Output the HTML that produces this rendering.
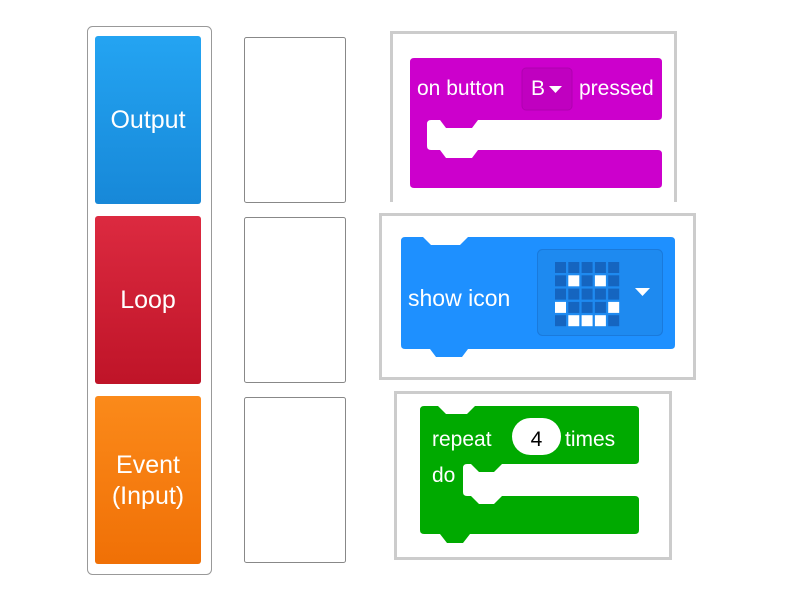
<!DOCTYPE html>
<html><head><meta charset="utf-8"><style>
html,body{margin:0;padding:0;background:#fff;}
svg{display:block;}
</style></head><body>
<svg width="800" height="600" viewBox="0 0 800 600" xmlns="http://www.w3.org/2000/svg" font-family="Liberation Sans, sans-serif">
<defs>
<linearGradient id="gb" x1="0" y1="0" x2="0" y2="1"><stop offset="0" stop-color="#24a4f2"/><stop offset="1" stop-color="#1788d8"/></linearGradient>
<linearGradient id="gr" x1="0" y1="0" x2="0" y2="1"><stop offset="0" stop-color="#dc2a40"/><stop offset="1" stop-color="#bf1428"/></linearGradient>
<linearGradient id="go" x1="0" y1="0" x2="0" y2="1"><stop offset="0" stop-color="#fb8a1a"/><stop offset="1" stop-color="#f07006"/></linearGradient>
</defs>
<rect x="87.5" y="26.5" width="124" height="548" rx="5" fill="#fff" stroke="#999" stroke-width="1"/>
<rect x="95" y="36" width="106" height="168" rx="3" fill="url(#gb)"/>
<rect x="95" y="216" width="106" height="168" rx="3" fill="url(#gr)"/>
<rect x="95" y="396" width="106" height="168" rx="3" fill="url(#go)"/>
<g fill="#fff" font-size="25" text-anchor="middle">
<text x="148" y="128">Output</text>
<text x="148" y="308">Loop</text>
<text x="148" y="473">Event</text>
<text x="148" y="504">(Input)</text>
</g>
<g fill="#fff" stroke="#888" stroke-width="1">
<rect x="244.5" y="37.5" width="101" height="165" rx="2"/>
<rect x="244.5" y="217.5" width="101" height="165" rx="2"/>
<rect x="244.5" y="397.5" width="101" height="165" rx="2"/>
</g>
<!-- image 1 -->
<path d="M391.5 202 V32.5 H675.5 V202" fill="#fff" stroke="#ccc" stroke-width="3"/>
<path d="M414 58 H658 Q662 58 662 62 V116 Q662 120 658 120 H478 L472 128 H446 L440 120 H431 Q427 120 427 124 V146 Q427 150 431 150 H440 L446 158 H472 L478 150 H658 Q662 150 662 154 V184 Q662 188 658 188 H414 Q410 188 410 184 V62 Q410 58 414 58 Z" fill="#cc00cc"/>
<rect x="522" y="68" width="50" height="42" rx="4" fill="#c000c0" stroke="#b000b0" stroke-width="1"/>
<g fill="#fff" font-size="21">
<text x="417" y="95">on button</text>
<text x="531" y="95">B</text>
<text x="579" y="95">pressed</text>
</g>
<path d="M549 86 H562 L555.5 93 Z" fill="#fff"/>
<!-- image 2 -->
<rect x="380.5" y="214.5" width="314" height="164" fill="#fff" stroke="#ccc" stroke-width="3"/>
<path d="M405 237 H423 L431 245 H460 L468 237 H671 Q675 237 675 241 V345 Q675 349 671 349 H468 L462 357 H436 L430 349 H405 Q401 349 401 345 V241 Q401 237 405 237 Z" fill="#1e90ff"/>
<rect x="537.5" y="249.5" width="125" height="86" rx="5" fill="#1e8af0" stroke="#1565c0" stroke-opacity="0.5" stroke-width="1"/>
<text x="408" y="306" fill="#fff" font-size="23">show icon</text>
<g>
<rect x="555" y="262" width="11" height="11" fill="#1565c0"/><rect x="568.3" y="262" width="11" height="11" fill="#1565c0"/><rect x="581.6" y="262" width="11" height="11" fill="#1565c0"/><rect x="594.9" y="262" width="11" height="11" fill="#1565c0"/><rect x="608.2" y="262" width="11" height="11" fill="#1565c0"/>
<rect x="555" y="275.3" width="11" height="11" fill="#1565c0"/><rect x="568.3" y="275.3" width="11" height="11" fill="#fff"/><rect x="581.6" y="275.3" width="11" height="11" fill="#1565c0"/><rect x="594.9" y="275.3" width="11" height="11" fill="#fff"/><rect x="608.2" y="275.3" width="11" height="11" fill="#1565c0"/>
<rect x="555" y="288.6" width="11" height="11" fill="#1565c0"/><rect x="568.3" y="288.6" width="11" height="11" fill="#1565c0"/><rect x="581.6" y="288.6" width="11" height="11" fill="#1565c0"/><rect x="594.9" y="288.6" width="11" height="11" fill="#1565c0"/><rect x="608.2" y="288.6" width="11" height="11" fill="#1565c0"/>
<rect x="555" y="301.9" width="11" height="11" fill="#fff"/><rect x="568.3" y="301.9" width="11" height="11" fill="#1565c0"/><rect x="581.6" y="301.9" width="11" height="11" fill="#1565c0"/><rect x="594.9" y="301.9" width="11" height="11" fill="#1565c0"/><rect x="608.2" y="301.9" width="11" height="11" fill="#fff"/>
<rect x="555" y="315.2" width="11" height="11" fill="#1565c0"/><rect x="568.3" y="315.2" width="11" height="11" fill="#fff"/><rect x="581.6" y="315.2" width="11" height="11" fill="#fff"/><rect x="594.9" y="315.2" width="11" height="11" fill="#fff"/><rect x="608.2" y="315.2" width="11" height="11" fill="#1565c0"/>
</g>
<path d="M635 288 H650 L642.5 296 Z" fill="#fff"/>
<!-- image 3 -->
<rect x="395.5" y="392.5" width="275" height="166" fill="#fff" stroke="#ccc" stroke-width="3"/>
<path d="M424 406 H438 L446 414 H467 L475 406 H635 Q639 406 639 410 V460 Q639 464 635 464 H502 L494 472 H479 L471 464 H467 Q463 464 463 468 V492 Q463 496 467 496 H471 L479 504 H494 L502 496 H635 Q639 496 639 500 V530 Q639 534 635 534 H470 L463 543 H447 L440 534 H424 Q420 534 420 530 V410 Q420 406 424 406 Z" fill="#00aa00"/>
<rect x="512" y="418" width="49" height="37" rx="18.5" fill="#fff"/>
<g font-size="21">
<text x="432" y="446" fill="#fff">repeat</text>
<text x="536.5" y="446" fill="#000" text-anchor="middle">4</text>
<text x="565" y="446" fill="#fff">times</text>
<text x="432" y="482" fill="#fff">do</text>
</g>
</svg>
</body></html>
